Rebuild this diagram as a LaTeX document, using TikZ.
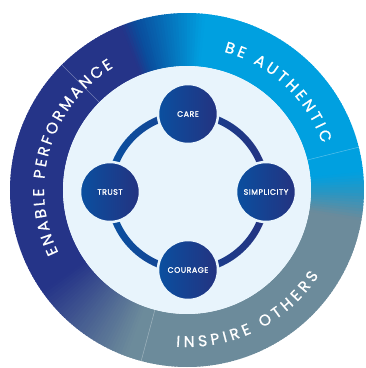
\documentclass[tikz,border=0pt]{standalone}
\usepackage{fontspec}
\setmainfont{Poppins}
\newfontfamily\ringfont{Poppins}[FakeBold=0.8]
\newfontfamily\valuefont{Poppins}[LetterSpace=7,FakeBold=1.6]
\usetikzlibrary{decorations.text}

\definecolor{navy}{RGB}{37,52,136}
\definecolor{deepblue}{RGB}{10,76,156}
\definecolor{skyblue}{RGB}{0,160,224}
\definecolor{tealblue}{RGB}{40,150,195}
\definecolor{slategrey}{RGB}{108,139,155}
\definecolor{paleblue}{RGB}{232,244,252}
\definecolor{valueleft}{RGB}{10,80,160}
\definecolor{valueright}{RGB}{36,50,128}

\tikzset{
  valuebox/.style={circle, minimum size=60pt, inner sep=0pt,
    left color=valueleft, right color=valueright,
    draw=paleblue, line width=2.5pt, text=white,
    font=\valuefont\fontsize{7.8}{8}\selectfont},
  divider/.style={white, opacity=0.35, line width=0.5pt},
  ringtext/.style={decorate, decoration={text along path,
    text align=fit to path,
    text={|\ringfont\fontsize{15.5}{15.5}\selectfont\color{white}|#1}}}
}

\begin{document}
\begin{tikzpicture}[x=1pt, y=1pt]
  \useasboundingbox (-187,-178) rectangle (179,190);
  % outer ring, colour running round
  \foreach \sa/\sb/\ca/\cb in {-150/-145/navy/navy, -145/-110/navy/slategrey,
      -110/-10/slategrey/slategrey, -10/-1/slategrey/tealblue,
      -1/6/tealblue/skyblue, 6/84/skyblue/skyblue, 84/107/skyblue/deepblue,
      107/112/deepblue/navy, 112/210/navy/navy}
  {
    \pgfmathtruncatemacro\nstep{\sb-\sa}
    \foreach \k in {1,...,\nstep}
    {
      \pgfmathtruncatemacro\mix{100*(\k-0.5)/\nstep}
      \pgfmathsetmacro\from{\sa+\k-1}
      \pgfmathsetmacro\upto{\sa+\k+0.4}
      \fill[\cb!\mix!\ca] (\from:124) arc[start angle=\from, end angle=\upto, radius=124]
        -- (\upto:177) arc[start angle=\upto, end angle=\from, radius=177] -- cycle;
    }
  }
  \draw[divider] (135:124) -- (135:177);
  \draw[divider] (14:124) -- (14:177);
  \draw[divider] (255:124) -- (255:177);

  \fill[paleblue] (0,0) circle (124);

  % ring labels
  \path[ringtext={BE AUTHENTIC}] (75:143) arc[start angle=75, end angle=19, radius=143];
  \path[ringtext={ENABLE PERFORMANCE}] (206:143) arc[start angle=206, end angle=121, radius=143];
  \path[ringtext={INSPIRE OTHERS}] (266:157) arc[start angle=266, end angle=327, radius=157];

  % values
  \coordinate (hub) at (1,-2);
  \path[left color=valueleft, right color=valueright, even odd rule]
    (hub) circle (81.5) (hub) circle (74.5);
  \node[valuebox] (care) at ([shift={(0,78)}]hub) {CARE};
  \node[valuebox] (simplicity) at ([shift={(78,0)}]hub) {SIMPLICITY};
  \node[valuebox] (courage) at ([shift={(0,-78)}]hub) {COURAGE};
  \node[valuebox] (trust) at ([shift={(-78,0)}]hub) {TRUST};
\end{tikzpicture}
\end{document}
